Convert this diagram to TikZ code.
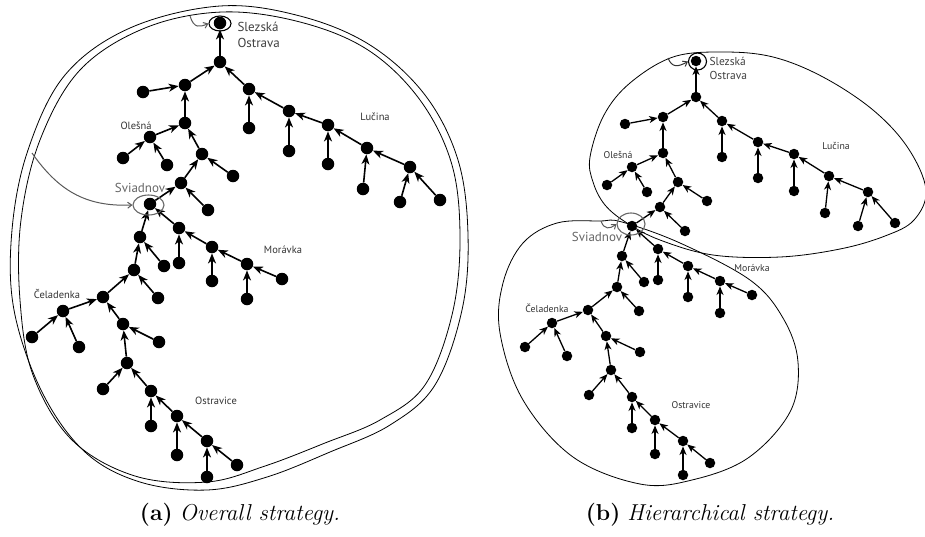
\documentclass[tikz,border=0pt]{standalone}
\usepackage{fontspec}
\newfontfamily\lblfont{PT Sans}
\usetikzlibrary{arrows.meta,shapes.geometric}
\begin{document}
\begin{tikzpicture}[x=1pt,y=-1pt,
  dotL/.style={circle,fill=black,inner sep=0pt,minimum size=12.5pt},
  dotR/.style={circle,fill=black,inner sep=0pt,minimum size=10.5pt},
  edgeL/.style={line width=1.6pt,-{Stealth[length=10pt,width=8pt,inset=3pt]}},
  edgeR/.style={line width=1.3pt,-{Stealth[length=8.5pt,width=7pt,inset=2.5pt]}},
  outline/.style={line width=0.8pt},
  ring/.style={ellipse,draw,inner sep=0pt,line width=1.1pt},
  grayring/.style={ring,draw=black!60},
  pointer/.style={line width=1pt,draw=black!65,-{Straight Barb[length=4pt,width=6pt]}},
  lblL/.style={font=\lblfont\fontsize{10.5}{12}\selectfont,text=black!80},
  lblR/.style={font=\lblfont\fontsize{9.8}{11}\selectfont,text=black!80},
  bigL/.style={font=\lblfont\fontsize{13}{16}\selectfont,text=black!75,align=left},
  bigR/.style={font=\lblfont\fontsize{11.5}{14.5}\selectfont,text=black!75,align=left},
  captxt/.style={font=\fontsize{23}{27}\selectfont}]
\useasboundingbox (0,0) rectangle (925,536);

% ---------------- left panel ----------------
\draw[outline] plot[smooth cycle,tension=0.6] coordinates {
  (220,6) (300,16) (370,45) (425,95) (458,160) (468,235) (462,310) (435,385)
  (390,425) (330,452) (267,477) (207,490) (140,482) (85,452) (42,392) (14,310)
  (12,230) (28,150) (65,75) (130,28)};
\draw[outline] plot[smooth cycle,tension=0.6] coordinates {
  (222,12) (300,22) (368,50) (420,100) (452,165) (460,240) (452,315) (425,385)
  (380,420) (325,443) (265,466) (207,482) (135,476) (72,440) (33,375) (20,300)
  (21,220) (40,140) (80,70) (145,28)};

\foreach \n/\x/\y in {S/220/23,A/220/62,B/185/85,Bl/143/92,C/185/123,D/150/137,
  Da/123/158,Db/167/165,E/202/154,El/233/176,F/181/183,Fl/208/210,G/150/204,
  H/249/89,Hl/249/128,I/289/111,Il/289/151,J/328/125,Jl/328/164,K/367/148,
  Kl/363/189,L/410/167,La/400/202,Lb/440/200,M/140/237,Ml/164/266,N/179/228,
  Nl/179/263,O/212/247,Ol/212/281,P/247/264,Pa/247/299,Pb/282/279,Q/134/270,
  Ql/158/298,R/103/297,T/63/311,Ta/32/337,Tb/79/347,U/123/324,Ul/159/342,
  V/127/363,Vl/103/389,W/151/391,Wl/151/426,X/177/416,Xl/177/455,Y/207/441,
  Ya/237/465,Yb/207/477}
  \node[dotL] (l\n) at (\x,\y) {};

\foreach \c/\p in {A/S,B/A,H/A,Bl/B,C/B,D/C,E/C,Da/D,Db/D,F/E,El/E,G/F,Fl/F,
  Hl/H,I/H,Il/I,J/I,Jl/J,K/J,Kl/K,L/K,La/L,Lb/L,M/G,N/G,Nl/N,O/N,Ol/O,P/O,
  Pa/P,Pb/P,Ml/M,Q/M,Ql/Q,R/Q,T/R,U/R,Ta/T,Tb/T,Ul/U,V/U,Vl/V,W/V,Wl/W,X/W,
  Xl/X,Y/X,Ya/Y,Yb/Y}
  \draw[edgeL] (l\c) -- (l\p);

\node[ring,minimum width=22pt,minimum height=15pt] (lSring) at (220,23.5) {};
\node[grayring,minimum width=31pt,minimum height=20pt] (lGring) at (148.5,205) {};
\coordinate (lSfrom) at (190,16);
\coordinate (lGfrom) at (32,153);
\draw[pointer] (lSfrom) .. controls (194,29) and (200,27) .. (lSring.west);
\draw[pointer] (lGfrom) .. controls (58,190) and (85,207) .. (lGring.west);

\node[bigL,anchor=west] (lSlbl) at (234,35) {Slezská\\Ostrava};
\node[bigL,text=black!60] (lGlbl) at (140,188) {Sviadnov};
\node[lblL] (lLuc) at (375,117) {Lučina};
\node[lblL] (lOle) at (136,126) {Olešná};
\node[lblL] (lMor) at (283,250) {Morávka};
\node[lblL] (lCel) at (57,294) {Čeladenka};
\node[lblL] (lOst) at (216,401) {Ostravice};

% ---------------- right panel ----------------
\draw[outline] plot[smooth cycle,tension=0.6] coordinates {
  (590,157) (604,115) (630,83) (673,57) (723,52) (773,57) (823,77) (873,110)
  (908,148) (926,190) (914,220) (885,236) (840,249) (780,257) (713,255)
  (660,240) (627,223) (605,205) (593,182)};
\draw[outline] plot[smooth cycle,tension=0.6] coordinates {
  (600,221) (622,222) (680,243) (750,280) (783,318) (798,362) (790,412)
  (748,458) (692,480) (640,484) (573,457) (523,400) (500,333) (503,283)
  (523,243) (557,223)};

\foreach \n/\x/\y in {S/696/61,A/696/97,B/663/117,Bl/625/124,C/663/153,D/632/167,
  Da/607/185,Db/647/192,E/678/182,El/707/201,F/660/207,Fl/685/231,G/632/226,
  H/722/121,Hl/722/157,I/758/142,Il/758/178,J/794/154,Jl/794/191,K/829/176,
  Kl/825/213,L/868/192,La/858/226,Lb/895/223,M/622/256,Ml/644/282,N/658/249,
  Nl/658/280,O/688/266,Ol/688/297,P/720/281,Pa/720/313,Pb/752/295,Q/617/287,
  Ql/639/311,R/588/310,T/552/323,Ta/525/347,Tb/567/356,U/606/336,Ul/640/352,
  V/611/370,Vl/589/395,W/632/397,Wl/632/428,X/655/420,Xl/655/454,Y/683/441,
  Ya/710/463,Yb/683/475}
  \node[dotR] (r\n) at (\x,\y) {};

\foreach \c/\p in {A/S,B/A,H/A,Bl/B,C/B,D/C,E/C,Da/D,Db/D,F/E,El/E,G/F,Fl/F,
  Hl/H,I/H,Il/I,J/I,Jl/J,K/J,Kl/K,L/K,La/L,Lb/L,M/G,N/G,Nl/N,O/N,Ol/O,P/O,
  Pa/P,Pb/P,Ml/M,Q/M,Ql/Q,R/Q,T/R,U/R,Ta/T,Tb/T,Ul/U,V/U,Vl/V,W/V,Wl/W,X/W,
  Xl/X,Y/X,Ya/Y,Yb/Y}
  \draw[edgeR] (r\c) -- (r\p);

\node[ring,minimum width=18pt,minimum height=17pt] (rSring) at (697.5,61.5) {};
\node[grayring,minimum width=28pt,minimum height=22pt] (rGring) at (631,224) {};
\coordinate (rSfrom) at (668,58);
\coordinate (rGfrom) at (601,221);
\draw[pointer,draw=black!80] (rSfrom) .. controls (672,68) and (678,67) .. (rSring.west);
\draw[pointer] (rGfrom) .. controls (604,230) and (610,229) .. (rGring.west);

\node[bigR,anchor=west] (rSlbl) at (706,68.5) {Slezská\\Ostrava};
\node[bigL,text=black!60] (rGlbl) at (597,237) {Sviadnov};
\node[lblR] (rLuc) at (836,146) {Lučina};
\node[lblR] (rOle) at (618,155) {Olešná};
\node[lblR] (rMor) at (752,268) {Morávka};
\node[lblR] (rCel) at (547,308) {Čeladenka};
\node[lblR] (rOst) at (691,405) {Ostravice};

% ---------------- captions ----------------
\node[captxt] (capA) at (240,515) {\textbf{(a)} \textit{Overall strategy.}};
\node[captxt] (capB) at (710,515) {\textbf{(b)} \textit{Hierarchical strategy.}};
\end{tikzpicture}
\end{document}
